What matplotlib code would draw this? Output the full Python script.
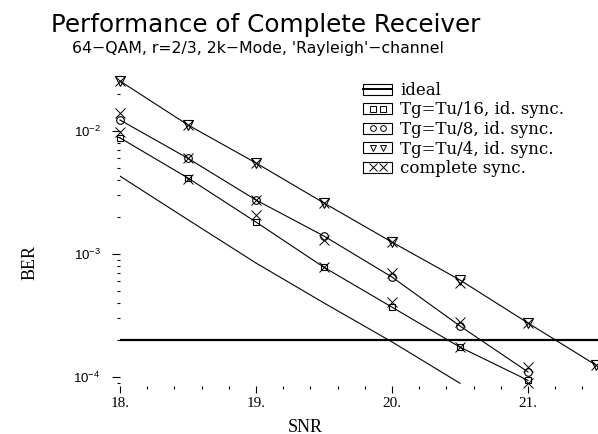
import matplotlib
matplotlib.use("Agg")
import matplotlib.pyplot as plt
from matplotlib.legend_handler import HandlerBase
from matplotlib.lines import Line2D
from matplotlib.patches import Rectangle
from matplotlib.ticker import FixedLocator, MultipleLocator, LogLocator, FuncFormatter

plt.rcParams['font.family'] = ['Liberation Sans', 'DejaVu Sans']

# SNR grid of the simulation points
snr = [18.0, 18.5, 19.0, 19.5, 20.0, 20.5, 21.0]
snr_tu4 = [18.0, 18.5, 19.0, 19.5, 20.0, 20.5, 21.0, 21.5]
snr_ideal = [18.0, 18.5, 19.0, 19.5, 20.0, 20.5]

# BER values
ber_ideal = [4.3e-3, 1.9e-3, 8.45e-4, 4.0e-4, 1.93e-4, 8.9e-5]
ber_tu16 = [8.8e-3, 4.15e-3, 1.82e-3, 7.8e-4, 3.7e-4, 1.75e-4, 9.4e-5]
ber_tu8 = [1.23e-2, 6.0e-3, 2.75e-3, 1.4e-3, 6.5e-4, 2.6e-4, 1.1e-4]
ber_tu4 = [2.55e-2, 1.12e-2, 5.5e-3, 2.6e-3, 1.25e-3, 6.15e-4, 2.75e-4, 1.25e-4]

# complete synchronisation (x markers) for the three guard intervals
cs_tu16 = [9.8e-3, 4.05e-3, 2.07e-3, 7.8e-4, 4.07e-4, 1.75e-4, 8.9e-5]
cs_tu8 = [1.4e-2, 6.0e-3, 2.75e-3, 1.3e-3, 7.0e-4, 2.8e-4, 1.2e-4]
cs_tu4 = [2.55e-2, 1.12e-2, 5.5e-3, 2.6e-3, 1.25e-3, 5.8e-4, 2.75e-4, 1.25e-4]

ber_limit = 2e-4

labels = ['ideal', 'Tg=Tu/16, id. sync.', 'Tg=Tu/8, id. sync.',
          'Tg=Tu/4, id. sync.', 'complete sync.']


class BoxHandler(HandlerBase):
    """Legend sample: a framed box holding two markers or a line"""
    def create_artists(self, legend, orig_handle, xdescent, ydescent,
                       width, height, fontsize, trans):
        x0, y0 = -xdescent, -ydescent
        box = Rectangle((x0, y0), width, height, fill=False, ec='black',
                        lw=0.8, transform=trans)
        mk = orig_handle.get_marker()
        if mk in (None, 'None', '', ' '):
            sample = Line2D([x0, x0 + width], [y0 + height / 2] * 2,
                            color='black', lw=1.4, transform=trans)
        else:
            sample = Line2D([x0 + width * 0.33, x0 + width * 0.67],
                            [y0 + height / 2] * 2, ls='none', marker=mk,
                            ms=orig_handle.get_markersize() * 0.75,
                            mfc='none', mec='black', mew=0.7,
                            transform=trans)
        return [box, sample]


fig = plt.figure(figsize=(5.98, 4.34), dpi=100)
ax = fig.add_axes([120 / 598, (434 - 385.7) / 434,
                   (598 - 120) / 598, (385.7 - 78) / 434])

lw = 0.8
ax.plot(snr_ideal, ber_ideal, color='black', lw=lw)
ax.axhline(ber_limit, color='black', lw=1.6)

h16, = ax.plot(snr, ber_tu16, color='black', lw=lw, marker='s', ms=5,
               mfc='none', mec='black', mew=0.8, clip_on=False)
h8, = ax.plot(snr, ber_tu8, color='black', lw=lw, marker='o', ms=5.5,
              mfc='none', mec='black', mew=0.8, clip_on=False)
h4, = ax.plot(snr_tu4, ber_tu4, color='black', lw=lw, marker='v', ms=6.5,
              mfc='none', mec='black', mew=0.8, clip_on=False)

hx, = ax.plot(snr, cs_tu16, ls='none', marker='x', ms=7, mec='black',
              mew=0.7, clip_on=False)
ax.plot(snr, cs_tu8, ls='none', marker='x', ms=7, mec='black', mew=0.7,
        clip_on=False)
ax.plot(snr_tu4, cs_tu4, ls='none', marker='x', ms=7, mec='black',
        mew=0.7, clip_on=False)

ax.set_yscale('log')
ax.set_xlim(18, 21.515)
ax.set_ylim(8.5e-5, 0.027)

for side in ['top', 'right', 'left', 'bottom']:
    ax.spines[side].set_visible(False)

ax.xaxis.set_major_locator(FixedLocator([18, 19, 20, 21]))
ax.xaxis.set_major_formatter(FuncFormatter(lambda v, p: f'{int(round(v))}.'))
ax.xaxis.set_minor_locator(MultipleLocator(0.2))
ax.yaxis.set_major_locator(FixedLocator([1e-4, 1e-3, 1e-2]))
ax.yaxis.set_minor_locator(LogLocator(base=10, subs=range(2, 10)))

ax.tick_params(axis='x', which='major', direction='out', length=5, width=0.8,
               pad=3, labelsize=11)
ax.tick_params(axis='x', which='minor', direction='out', length=2, width=0.8)
ax.tick_params(axis='y', which='major', direction='out', length=6, width=0.8,
               pad=8, labelsize=9.5)
ax.tick_params(axis='y', which='minor', direction='out', length=2, width=0.8)
for t in ax.get_xticklabels():
    t.set_fontfamily(['Liberation Serif', 'DejaVu Serif'])

fig.text(305 / 598, 1 - 427 / 434, 'SNR', ha='center', va='center',
         fontsize=13, family=['Liberation Serif', 'DejaVu Serif'])
fig.text(30 / 598, 1 - 263 / 434, 'BER', ha='center', va='center',
         rotation=90, fontsize=13, family=['Liberation Serif', 'DejaVu Serif'])

fig.text(266 / 598, 1 - 25 / 434, 'Performance of Complete Receiver',
         ha='center', va='center', fontsize=17.7, family=['DejaVu Sans'])
fig.text(258 / 598, 1 - 49 / 434, "64\u2212QAM, r=2/3, 2k\u2212Mode, 'Rayleigh'\u2212channel",
         ha='center', va='center', fontsize=11.3, family=['DejaVu Sans'])

ideal_handle = Line2D([], [], color='black', marker='None')
handles = [ideal_handle, h16, h8, h4, hx]
leg = fig.legend(handles, labels, loc='upper left',
                 bbox_to_anchor=(363 / 598, 1 - 82 / 434),
                 frameon=False, borderpad=0, borderaxespad=0,
                 handlelength=1.75, handleheight=0.66, handletextpad=0.5,
                 labelspacing=0.15,
                 handler_map={Line2D: BoxHandler()},
                 prop={'family': ['DejaVu Serif'], 'size': 12})

fig.savefig('out.png', dpi=100)
